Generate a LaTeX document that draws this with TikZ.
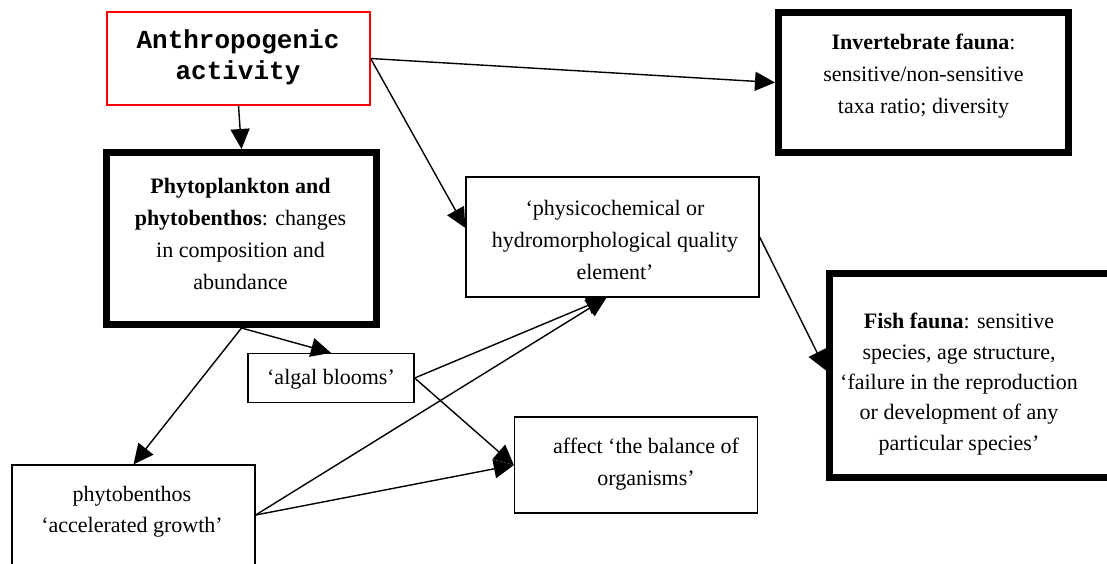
\documentclass[tikz,border=0pt]{standalone}
\usepackage{fontspec}
\setmainfont{Liberation Serif}
\newfontfamily\anthrofont{Liberation Mono}
\usetikzlibrary{arrows.meta}
\begin{document}
\begin{tikzpicture}[x=1pt,y=-1pt,
  thinbox/.style={draw, line width=1.3pt, rectangle, inner sep=0pt},
  thickbox/.style={draw, line width=7pt, rectangle, inner sep=0pt},
  txt/.style={align=center, font=\fontsize{22}{32}\selectfont, inner sep=0pt},
  arr/.style={line width=1.4pt, -{Triangle[length=20pt,width=19pt]}}]
\useasboundingbox (0,0) rectangle (1107,563);
\fill[white] (0,0) rectangle (1107,563);
% boxes
\node[draw=red, line width=1.3pt, rectangle, inner sep=0pt, minimum width=263pt, minimum height=93pt] (anthro) at (238.5,58.5) {};
\node[thickbox, minimum width=270pt, minimum height=172pt] (phyto) at (241.5,238.5) {};
\node[thickbox, minimum width=290pt, minimum height=140pt] (invert) at (923.5,82.5) {};
\node[thinbox, minimum width=293pt, minimum height=120pt] (physico) at (612.5,237) {};
\node[thickbox, minimum width=300pt, minimum height=204pt] (fish) at (979.5,375.5) {};
\node[thinbox, minimum width=166pt, minimum height=49pt] (algal) at (331,378) {};
\node[thinbox, minimum width=243pt, minimum height=96pt] (affect) at (636,465) {};
\node[thinbox, minimum width=243pt, minimum height=100pt] (pbenth) at (133.5,515) {};
% texts
\node[txt, font=\anthrofont\bfseries\fontsize{26}{31}\selectfont] (anthrotxt) at (238,57.5) {Anthropogenic\\activity};
\node[txt] (phytotxt) at (240.5,234) {\textbf{Phytoplankton and}\\\textbf{phytobenthos}: changes\\in composition and\\abundance};
\node[txt] (inverttxt) at (923.5,76) {\textbf{Invertebrate fauna}:\\sensitive/non-sensitive\\taxa ratio; diversity};
\node[txt] (physicotxt) at (615,240) {‘physicochemical or\\hydromorphological quality\\element’};
\node[txt, font=\fontsize{22}{30.3}\selectfont] (fishtxt) at (959,384) {\textbf{Fish fauna}: sensitive\\species, age structure,\\‘failure in the reproduction\\or development of any\\particular species’};
\node[txt] (algaltxt) at (331,379) {‘algal blooms’};
\node[txt] (affecttxt) at (646,464) {affect ‘the balance of\\organisms’};
\node[txt, font=\fontsize{22}{31}\selectfont] (pbenthtxt) at (132,511.5) {phytobenthos\\‘accelerated growth’};
% connectors
\coordinate (pb) at ([xshift=-6pt]physico.south);
\draw[arr] (anthro.south) -- (phyto.north);
\draw[arr] (anthro.east) -- (invert.west);
\draw[arr] (anthro.east) -- ([yshift=9pt]physico.west);
\draw[arr] (physico.east) -- ([yshift=5pt]fish.west);
\draw[arr] (phyto.south) -- (algal.north);
\draw[arr] (phyto.south) -- (pbenth.north);
\draw[arr] (algal.east) -- (pb);
\draw[arr] (algal.east) -- (affect.west);
\draw[arr] (pbenth.east) -- (pb);
\draw[arr] (pbenth.east) -- (affect.west);
\end{tikzpicture}
\end{document}
